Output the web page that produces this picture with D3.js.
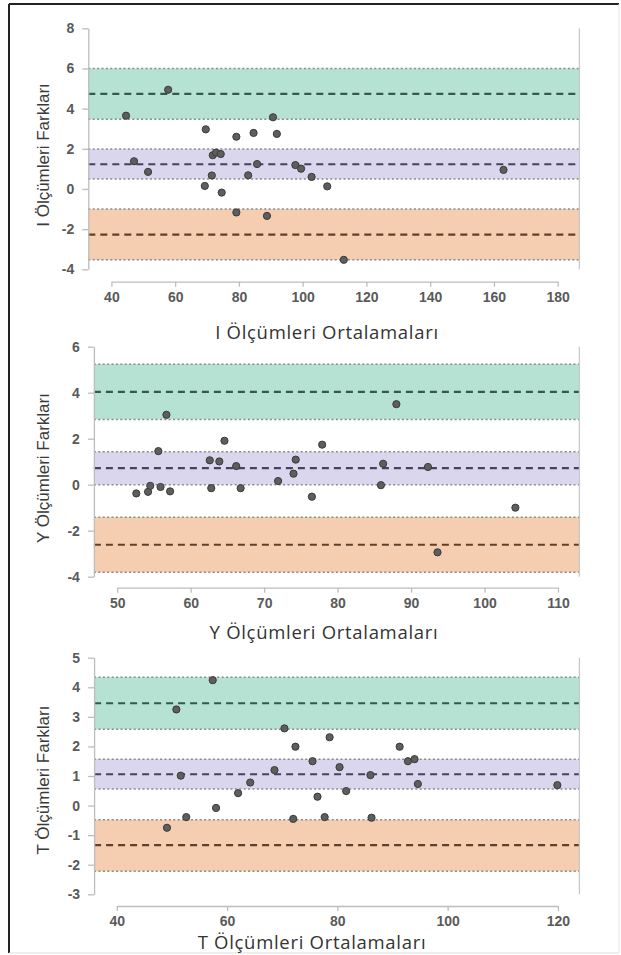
<!DOCTYPE html>
<html>
<head>
<meta charset="utf-8">
<script src="https://cdn.jsdelivr.net/npm/d3@7"></script>
<style>
  body { margin: 0; background: #fff; }
  svg { display: block; }
</style>
</head>
<body>
<svg id="chart"></svg>
<script>

// I measurements
const iMeans = [44.6, 57.8, 47.1, 51.5, 69.6, 69.3, 71.5, 71.8, 72.8, 74.3, 74.6, 79.2, 79.2, 82.9, 84.6, 85.7, 88.8, 90.7, 91.9, 97.7, 99.5, 102.8, 107.7, 112.9, 163.0]
const iDiffs = [3.65, 4.94, 1.38, 0.85, 2.97, 0.15, 0.67, 1.68, 1.81, 1.74, -0.18, 2.6, -1.17, 0.68, 2.79, 1.24, -1.34, 3.57, 2.74, 1.19, 1.01, 0.6, 0.13, -3.53, 0.95]
const iUpper = [3.47, 4.73, 6.0]
const iBias = [0.5, 1.23, 1.99]
const iLower = [-3.53, -2.27, -1.0]
const iXTicks = [40, 60, 80, 100, 120, 140, 160, 180]
const iYTicks = [-4, -2, 0, 2, 4, 6, 8]

// Y measurements
const yMeans = [52.6, 54.2, 54.5, 55.6, 55.9, 56.7, 57.2, 62.6, 62.8, 63.9, 64.6, 66.2, 66.8, 71.9, 74.0, 74.3, 76.5, 77.9, 85.9, 86.2, 88.0, 92.3, 93.6, 104.2]
const yDiffs = [-0.38, -0.31, -0.05, 1.46, -0.1, 3.04, -0.29, 1.06, -0.15, 1.01, 1.91, 0.81, -0.15, 0.16, 0.48, 1.09, -0.52, 1.74, -0.02, 0.91, 3.5, 0.77, -2.94, -1.0]
const yUpper = [2.84, 4.04, 5.24]
const yBias = [0.0, 0.72, 1.43]
const yLower = [-3.81, -2.61, -1.41]
const yXTicks = [50, 60, 70, 80, 90, 100, 110]
const yYTicks = [-4, -2, 0, 2, 4, 6]

// T measurements
const tMeans = [57.4, 50.8, 51.6, 52.6, 49.1, 58.0, 62.0, 64.2, 68.6, 70.4, 72.0, 72.4, 75.5, 76.4, 77.7, 78.6, 80.4, 81.6, 86.0, 86.2, 91.3, 92.8, 94.0, 94.6, 119.9]
const tDiffs = [4.24, 3.25, 1.01, -0.39, -0.75, -0.08, 0.42, 0.78, 1.2, 2.61, -0.45, 1.99, 1.5, 0.3, -0.39, 2.31, 1.3, 0.49, 1.03, -0.41, 1.99, 1.5, 1.57, 0.73, 0.69]
const tUpper = [2.58, 3.46, 4.34]
const tBias = [0.56, 1.06, 1.57]
const tLower = [-2.22, -1.34, -0.48]
const tXTicks = [40, 60, 80, 100, 120]
const tYTicks = [-3, -2, -1, 0, 1, 2, 3, 4, 5]

const W = 621
const H = 955

const svg = d3.select("#chart")
    .attr("width", W)
    .attr("height", H)

// outer frame
svg.append("line").attr("x1", 9).attr("x2", 619).attr("y1", 4).attr("y2", 4)
    .attr("stroke", "#222").attr("stroke-width", 2)
svg.append("line").attr("x1", 9).attr("x2", 9).attr("y1", 4).attr("y2", 953)
    .attr("stroke", "#222").attr("stroke-width", 2)
svg.append("line").attr("x1", 9).attr("x2", 619).attr("y1", 953).attr("y2", 953)
    .attr("stroke", "#ddd").attr("stroke-width", 1)
svg.append("line").attr("x1", 619).attr("x2", 619).attr("y1", 4).attr("y2", 953)
    .attr("stroke", "#e4e4e4").attr("stroke-width", 1)

const bandStyles = [
    {fill: "#b5e2d2", line: "#35574c"},   // upper limit
    {fill: "#d9d6ee", line: "#45445a"},   // bias
    {fill: "#f5cdb0", line: "#5e402b"}    // lower limit
]

function drawPanel(p){

    const xScale = d3.scaleLinear()
        .domain(d3.extent(p.xTicks))
        .range(p.xRange)

    const yScale = d3.scaleLinear()
        .domain(d3.extent(p.yTicks))
        .range(p.yRange)

    const g = svg.append("g")

    // bands: [low, mean, high]
    const bands = [p.upper, p.bias, p.lower]
    bands.forEach((b, i) => {
        const st = bandStyles[i]
        g.append("rect")
            .attr("x", p.left)
            .attr("width", p.right - p.left)
            .attr("y", yScale(b[2]))
            .attr("height", yScale(b[0]) - yScale(b[2]))
            .attr("fill", st.fill)

        // dotted bounds
        ;[b[0], b[2]].forEach(v => {
            g.append("line")
                .attr("x1", p.left).attr("x2", p.right)
                .attr("y1", yScale(v)).attr("y2", yScale(v))
                .attr("stroke", "#8a8a8a")
                .attr("stroke-width", 1.5)
                .attr("stroke-dasharray", "2,2.4")
        })

        // dashed mean
        g.append("line")
            .attr("x1", p.left).attr("x2", p.right)
            .attr("y1", yScale(b[1])).attr("y2", yScale(b[1]))
            .attr("stroke", st.line)
            .attr("stroke-width", 2.2)
            .attr("stroke-dasharray", "7,5")
    })

    // right frame line
    g.append("line")
        .attr("x1", p.right).attr("x2", p.right)
        .attr("y1", p.yRange[1]).attr("y2", p.yRange[0])
        .attr("stroke", "#c8c8c8")
        .attr("stroke-width", 1.3)

    // y axis
    const axisLeft = d3.axisLeft(yScale)
        .tickValues(p.yTicks)
        .tickFormat(d => String(d))
        .tickSize(6)
        .tickSizeOuter(0)
        .tickPadding(8)
    const ya = g.append("g")
        .attr("transform", `translate(${p.left}, 0)`)
        .call(axisLeft)

    // x axis, offset below the plot
    const axisBottom = d3.axisBottom(xScale)
        .tickValues(p.xTicks)
        .tickFormat(d => String(d))
        .tickSize(5)
        .tickSizeOuter(0)
        .tickPadding(5)
    const xa = g.append("g")
        .attr("transform", `translate(0, ${p.xAxisY})`)
        .call(axisBottom)

    ;[ya, xa].forEach(a => {
        a.select(".domain").attr("stroke", "#bdbdbd").attr("stroke-width", 1.3)
        a.selectAll(".tick line").attr("stroke", "#bdbdbd").attr("stroke-width", 1.3)
        a.selectAll(".tick text")
            .attr("fill", "#5a5a5a")
            .attr("font-family", "Liberation Sans, Arial, sans-serif")
            .attr("font-size", 14)
            .attr("font-weight", "bold")
    })

    // points
    g.selectAll("circle")
        .data(p.means.map((m, i) => [m, p.diffs[i]]))
        .enter()
        .append("circle")
        .attr("cx", d => xScale(d[0]))
        .attr("cy", d => yScale(d[1]))
        .attr("r", 3.6)
        .attr("fill", "#5e5e5e")
        .attr("stroke", "#3a3a3a")
        .attr("stroke-width", 1)

    // titles
    g.append("text")
        .attr("transform", `translate(${p.yTitle[0]}, ${p.yTitle[1]}) rotate(-90)`)
        .attr("text-anchor", "middle")
        .attr("dy", "0.35em")
        .attr("font-family", "Liberation Sans, Arial, sans-serif")
        .attr("font-size", 17)
        .attr("fill", "#3a3a3a")
        .text(p.yLabel)

    g.append("text")
        .attr("x", p.xTitle[0])
        .attr("y", p.xTitle[1])
        .attr("text-anchor", "middle")
        .attr("font-family", "Open Sans, sans-serif")
        .attr("font-size", 18.5)
        .attr("letter-spacing", 0.7)
        .attr("fill", "#333")
        .text(p.xLabel)
}

drawPanel({
    means: iMeans, diffs: iDiffs, upper: iUpper, bias: iBias, lower: iLower,
    xTicks: iXTicks, yTicks: iYTicks,
    xRange: [111.4, 557.7], yRange: [269.3, 28.3],
    left: 88.3, right: 579.4, xAxisY: 281.7,
    yLabel: "I Ölçümleri Farkları", xLabel: "I Ölçümleri Ortalamaları",
    yTitle: [43, 155], xTitle: [327, 339]
})

drawPanel({
    means: yMeans, diffs: yDiffs, upper: yUpper, bias: yBias, lower: yLower,
    xTicks: yXTicks, yTicks: yYTicks,
    xRange: [117.2, 558.0], yRange: [576.7, 346.7],
    left: 93.9, right: 579.4, xAxisY: 587.7,
    yLabel: "Y Ölçümleri Farkları", xLabel: "Y Ölçümleri Ortalamaları",
    yTitle: [43, 468], xTitle: [324, 638.5]
})

drawPanel({
    means: tMeans, diffs: tDiffs, upper: tUpper, bias: tBias, lower: tLower,
    xTicks: tXTicks, yTicks: tYTicks,
    xRange: [116.8, 557.9], yRange: [894.3, 657.7],
    left: 94.1, right: 579.4, xAxisY: 906,
    yLabel: "T Ölçümleri Farkları", xLabel: "T Ölçümleri Ortalamaları",
    yTitle: [43, 780], xTitle: [312, 949]
})

</script>
</body>
</html>
